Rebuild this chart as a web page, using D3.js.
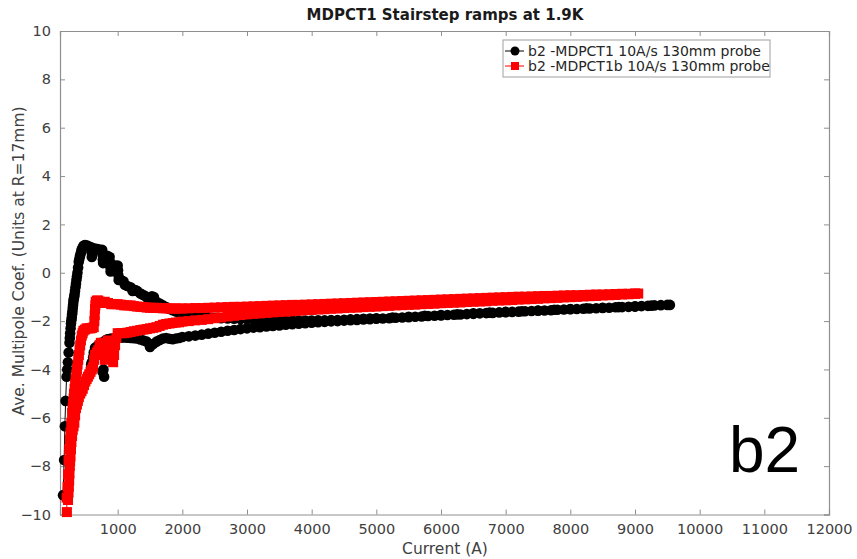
<!DOCTYPE html>
<html>
<head>
<meta charset="utf-8">
<script src="https://cdn.jsdelivr.net/npm/d3@7"></script>
<style>
  body { margin: 0; background: #fff; }
  svg { display: block; }
  text { font-family: "DejaVu Sans", sans-serif; }
</style>
</head>
<body>
<svg id="chart" width="857" height="559"></svg>
<script>
// Tick values for both axes
const xTicks = [1000, 2000, 3000, 4000, 5000, 6000, 7000, 8000, 9000, 10000, 11000, 12000];
const yTicks = [-10, -8, -6, -4, -2, 0, 2, 4, 6, 8, 10];

// b2 -MDPCT1 10A/s 130mm probe : [current (A), b2 (units)], in acquisition order
const seriesMDPCT1 = [
  // up ramp
  [155,-9.2],[172,-7.75],[183,-6.35],[195,-5.3],[210,-4.3],[220,-4.0],[230,-3.7],[242,-3.3],
  [255,-2.9],[260,-2.7],[265,-2.5],[272,-2.3],[278,-2.1],[284,-1.97],[290,-1.85],[295,-1.72],
  [300,-1.6],[305,-1.46],[310,-1.33],[315,-1.2],[320,-1.1],[327,-1.0],[333,-0.9],[340,-0.75],
  [348,-0.6],[355,-0.45],[362,-0.3],[370,-0.15],[378,0.0],[388,0.22],[398,0.45],[408,0.58],
  [418,0.7],[430,0.82],[440,0.94],[455,1.02],[468,1.1],[480,1.13],[495,1.15],
  [530,1.12],[560,1.08],[590,1.05],[595,0.85],[600,0.65],[620,0.85],[650,1.0],[690,0.98],
  [730,0.95],[760,0.95],[765,0.75],[770,0.55],[775,0.4],[800,0.55],[840,0.7],[875,0.65],
  [880,0.45],[885,0.25],[890,0.05],[920,0.2],[960,0.3],[1000,0.3],[1005,0.1],[1010,-0.1],
  [1015,-0.3],[1050,-0.3],[1090,-0.35],[1110,-0.5],[1150,-0.55],[1200,-0.6],[1230,-0.75],
  [1270,-0.72],[1300,-0.75],[1345,-0.85],[1380,-0.9],[1420,-0.95],[1460,-1.05],[1500,-1.1],
  [1530,-0.97],[1560,-1.0],[1600,-1.2],[1650,-1.27],[1700,-1.35],[1750,-1.42],[1800,-1.5],
  [1850,-1.55],[1900,-1.6],[1950,-1.65],[2000,-1.7],[2100,-1.74],[2200,-1.78],[2300,-1.81],
  [2400,-1.84],[2500,-1.86],[2600,-1.88],[2700,-1.89],[2800,-1.9],[2900,-1.91],[3000,-1.92],
  [3100,-1.93],[3200,-1.94],[3300,-1.95],[3400,-1.96],[3500,-1.97],[3600,-1.97],[3700,-1.98],
  [3800,-1.98],[3900,-1.98],[4000,-1.98],[4100,-1.97],[4200,-1.97],[4300,-1.96],[4400,-1.96],
  [4500,-1.95],[4600,-1.93],[4700,-1.92],[4800,-1.9],[4900,-1.89],[5000,-1.88],[5250,-1.85],
  [5500,-1.82],[5750,-1.78],[6000,-1.75],[6250,-1.72],[6500,-1.68],[6750,-1.65],[7000,-1.62],
  [7250,-1.59],[7500,-1.56],[7750,-1.53],[8000,-1.5],[8250,-1.47],[8500,-1.45],[8750,-1.42],
  [9000,-1.39],[9250,-1.36],[9540,-1.33],
  // down ramp
  [9500,-1.33],[9400,-1.34],[9300,-1.35],[9200,-1.37],[9100,-1.38],[9000,-1.40],[8900,-1.41],
  [8800,-1.42],[8700,-1.43],[8600,-1.45],[8500,-1.46],[8400,-1.47],[8300,-1.48],[8200,-1.49],
  [8100,-1.50],[8000,-1.51],[7900,-1.52],[7800,-1.53],[7700,-1.55],[7600,-1.56],[7500,-1.57],
  [7400,-1.58],[7300,-1.59],[7200,-1.61],[7100,-1.62],[7000,-1.63],[6900,-1.64],[6800,-1.66],
  [6700,-1.67],[6600,-1.68],[6500,-1.70],[6400,-1.71],[6300,-1.73],[6200,-1.74],[6100,-1.75],
  [6000,-1.77],[5900,-1.78],[5800,-1.79],[5700,-1.81],[5600,-1.82],[5500,-1.84],[5400,-1.85],
  [5300,-1.86],[5200,-1.88],[5100,-1.89],[5000,-1.90],[4900,-1.92],[4800,-1.93],[4700,-1.95],
  [4600,-1.96],[4500,-1.98],[4400,-2.00],[4300,-2.01],[4200,-2.03],[4100,-2.05],[4000,-2.07],
  [3900,-2.09],[3800,-2.11],[3700,-2.13],[3600,-2.15],[3500,-2.18],[3400,-2.20],[3300,-2.22],
  [3200,-2.25],[3100,-2.27],[3000,-2.30],[2900,-2.33],[2800,-2.37],[2700,-2.40],[2600,-2.44],
  [2500,-2.48],[2400,-2.52],[2300,-2.56],[2200,-2.60],[2100,-2.63],[2000,-2.66],[1950,-2.7],
  [1900,-2.72],[1850,-2.75],[1800,-2.73],[1750,-2.7],[1700,-2.72],[1650,-2.78],[1600,-2.85],
  [1550,-2.95],[1500,-3.07],[1450,-2.85],[1400,-2.8],[1350,-2.76],[1300,-2.72],[1250,-2.71],
  [1200,-2.7],[1150,-2.69],[1100,-2.68],[1050,-2.69],[1000,-2.7],[950,-2.71],[900,-2.72],
  [870,-2.74],[840,-2.75],[810,-2.8],[790,-4.3],[780,-4.0],[765,-4.1],[750,-3.0],[740,-2.9],
  [720,-2.95],[700,-3.0],[680,-3.05],[650,-3.1],[630,-3.3],[620,-3.5],[600,-3.7],[590,-3.8]
];

// b2 -MDPCT1b 10A/s 130mm probe : [current (A), b2 (units)], in acquisition order
const seriesMDPCT1b = [
  // up ramp
  [215,-9.9],[210,-9.3],[225,-8.85],[232,-8.35],[240,-7.75],[250,-7.3],[262,-6.9],[270,-6.6],
  [282,-6.2],[295,-5.8],[302,-5.6],[310,-5.4],[318,-5.2],[325,-5.0],[333,-4.8],[342,-4.6],
  [350,-4.4],[360,-4.2],[370,-4.0],[380,-3.8],[390,-3.6],[400,-3.4],[410,-3.2],[420,-3.0],
  [432,-2.8],[445,-2.6],[458,-2.5],[470,-2.4],[495,-2.35],[520,-2.3],[550,-2.3],[580,-2.3],
  [605,-2.28],[630,-2.25],[640,-2.0],[645,-1.75],[650,-1.5],[655,-1.35],[660,-1.2],
  [680,-1.15],[700,-1.15],[725,-1.2],[750,-1.25],[775,-1.22],[800,-1.2],[850,-1.25],[900,-1.3],
  [950,-1.3],[1000,-1.3],[1050,-1.32],[1100,-1.35],[1150,-1.35],[1200,-1.35],[1250,-1.38],
  [1300,-1.4],[1350,-1.41],[1400,-1.42],[1450,-1.44],[1500,-1.45],[1550,-1.45],[1600,-1.45],
  [1650,-1.46],[1700,-1.47],[1750,-1.47],[1800,-1.48],[1850,-1.48],[1900,-1.48],[1950,-1.48],
  [2000,-1.48],[2100,-1.47],[2200,-1.46],[2300,-1.46],[2400,-1.45],[2500,-1.44],[2600,-1.43],
  [2700,-1.42],[2800,-1.41],[2900,-1.41],[3000,-1.40],[3100,-1.39],[3200,-1.38],[3300,-1.37],
  [3400,-1.36],[3500,-1.35],[3600,-1.34],[3700,-1.33],[3800,-1.33],[3900,-1.32],[4000,-1.31],
  [4100,-1.30],[4200,-1.29],[4300,-1.28],[4400,-1.27],[4500,-1.26],[4600,-1.25],[4700,-1.24],
  [4800,-1.23],[4900,-1.22],[5000,-1.21],[5100,-1.20],[5200,-1.19],[5300,-1.18],[5400,-1.17],
  [5500,-1.16],[5600,-1.15],[5700,-1.14],[5800,-1.13],[5900,-1.12],[6000,-1.11],[6100,-1.10],
  [6200,-1.09],[6300,-1.08],[6400,-1.07],[6500,-1.06],[6600,-1.05],[6700,-1.04],[6800,-1.03],
  [6900,-1.02],[7000,-1.01],[7100,-1.00],[7200,-0.99],[7300,-0.99],[7400,-0.98],[7500,-0.97],
  [7600,-0.96],[7700,-0.96],[7800,-0.95],[7900,-0.94],[8000,-0.93],[8100,-0.93],[8200,-0.92],
  [8300,-0.91],[8400,-0.90],[8500,-0.90],[8600,-0.89],[8700,-0.88],[8800,-0.87],[8900,-0.87],
  [9000,-0.86],[9050,-0.86],
  // down ramp
  [9000,-0.87],[8900,-0.89],[8800,-0.90],[8700,-0.92],[8600,-0.93],[8500,-0.94],[8400,-0.96],
  [8300,-0.97],[8200,-0.98],[8100,-1.00],[8000,-1.01],[7900,-1.02],[7800,-1.04],[7700,-1.05],
  [7600,-1.06],[7500,-1.08],[7400,-1.09],[7300,-1.10],[7200,-1.11],[7100,-1.13],[7000,-1.14],
  [6900,-1.15],[6800,-1.16],[6700,-1.18],[6600,-1.19],[6500,-1.20],[6400,-1.21],[6300,-1.23],
  [6200,-1.24],[6100,-1.25],[6000,-1.26],[5900,-1.28],[5800,-1.29],[5700,-1.30],[5600,-1.32],
  [5500,-1.33],[5400,-1.34],[5300,-1.35],[5200,-1.37],[5100,-1.38],[5000,-1.40],[4900,-1.41],
  [4800,-1.42],[4700,-1.44],[4600,-1.45],[4500,-1.46],[4400,-1.48],[4300,-1.49],[4200,-1.51],
  [4100,-1.52],[4000,-1.54],[3900,-1.55],[3800,-1.57],[3700,-1.59],[3600,-1.61],[3500,-1.62],
  [3400,-1.64],[3300,-1.66],[3200,-1.68],[3100,-1.70],[3000,-1.72],[2900,-1.75],[2800,-1.78],
  [2700,-1.81],[2600,-1.85],[2500,-1.88],[2400,-1.92],[2300,-1.95],[2200,-1.97],[2100,-2.00],
  [2000,-2.02],[1950,-2.05],[1900,-2.06],[1850,-2.08],[1800,-2.10],[1750,-2.12],[1700,-2.15],
  [1650,-2.20],[1600,-2.25],[1550,-2.28],[1500,-2.30],[1450,-2.33],[1400,-2.35],[1350,-2.37],
  [1300,-2.40],[1250,-2.42],[1200,-2.45],[1150,-2.48],[1100,-2.50],[1050,-2.50],[1000,-2.50],
  [980,-2.7],[960,-3.0],[945,-3.4],[930,-3.7],[915,-3.3],[900,-3.0],[875,-2.9],[850,-2.8],
  [825,-3.2],[800,-3.6],[780,-3.2],[760,-2.9],[740,-2.9],[720,-3.0],[700,-3.2],[675,-3.3],
  [650,-3.4],[635,-3.6],[620,-3.9],[600,-4.0],[580,-4.1],[560,-4.2],[540,-4.3],[520,-4.4],
  [500,-4.5],[480,-4.65],[460,-4.8],[440,-4.9],[420,-5.0],[400,-5.15],[385,-5.3],[370,-5.45],
  [355,-5.6],[342,-5.9],[330,-6.2],[318,-6.35],[305,-6.5],[295,-6.75],[285,-7.0],[278,-7.3],
  [270,-7.6],[265,-7.8],[260,-8.0],[255,-8.3],[250,-8.6],[245,-8.85],[240,-9.1],[232,-9.4]
];

const seriesNames = ["b2 -MDPCT1 10A/s 130mm probe", "b2 -MDPCT1b 10A/s 130mm probe"];
const seriesColors = ["#000000", "#ff0000"];

const svg = d3.select("#chart");
const plot = { left: 60, right: 829, top: 31, bottom: 514.5 };

const x = d3.scaleLinear().domain([108, 12000]).range([plot.left, plot.right]);
const y = d3.scaleLinear().domain([-10, 10]).range([plot.bottom, plot.top]);

const axisColor = "#8f8f8f";
const labelColor = "#404040";

// Axes: ticks point inward, box drawn on all four sides
const xAxisB = d3.axisBottom(x).tickValues(xTicks).tickSize(-5).tickPadding(9).tickFormat(d3.format("d"));
const xAxisT = d3.axisTop(x).tickValues(xTicks).tickSize(-5).tickFormat("");
const yAxisL = d3.axisLeft(y).tickValues(yTicks).tickSize(-5).tickPadding(9).tickFormat(d3.format("d"));
const yAxisR = d3.axisRight(y).tickValues(yTicks).tickSize(-5).tickFormat("");

function styleAxis(g) {
  g.select(".domain").attr("stroke", axisColor).attr("stroke-width", 1.2);
  g.selectAll(".tick line").attr("stroke", axisColor).attr("stroke-width", 1);
  g.selectAll(".tick text").attr("fill", labelColor)
    .style("font-family", "'DejaVu Sans', sans-serif").style("font-size", "14.5px");
}

svg.append("g").attr("transform", `translate(0,${plot.bottom})`).call(xAxisB).call(styleAxis);
svg.append("g").attr("transform", `translate(0,${plot.top})`).call(xAxisT).call(styleAxis);
svg.append("g").attr("transform", `translate(${plot.left},0)`).call(yAxisL).call(styleAxis);
svg.append("g").attr("transform", `translate(${plot.right},0)`).call(yAxisR).call(styleAxis);

// Series: thin connecting line plus markers
const line = d3.line().x(d => x(d[0])).y(d => y(d[1]));
const dataG = svg.append("g");

dataG.append("path").datum(seriesMDPCT1)
  .attr("d", line).attr("fill", "none").attr("stroke", seriesColors[0]).attr("stroke-width", 1);
dataG.append("g").selectAll("circle").data(seriesMDPCT1).join("circle")
  .attr("cx", d => x(d[0])).attr("cy", d => y(d[1])).attr("r", 5.3)
  .attr("fill", seriesColors[0]);

dataG.append("path").datum(seriesMDPCT1b)
  .attr("d", line).attr("fill", "none").attr("stroke", seriesColors[1]).attr("stroke-width", 1);
const sq = 10;
dataG.append("g").selectAll("rect").data(seriesMDPCT1b).join("rect")
  .attr("x", d => x(d[0]) - sq / 2).attr("y", d => y(d[1]) - sq / 2)
  .attr("width", sq).attr("height", sq).attr("fill", seriesColors[1]);

// Title and axis labels
svg.append("text").attr("x", 445).attr("y", 20).attr("text-anchor", "middle")
  .style("font-size", "15px").style("font-weight", "bold").attr("fill", "#1a1a1a")
  .text("MDPCT1 Stairstep ramps at 1.9K");
svg.append("text").attr("x", 445).attr("y", 554).attr("text-anchor", "middle")
  .style("font-size", "15.5px").attr("fill", labelColor).text("Current (A)");
svg.append("text").attr("transform", "translate(24,261) rotate(-90)").attr("text-anchor", "middle")
  .style("font-size", "15.5px").attr("fill", labelColor).text("Ave. Multipole Coef. (Units at R=17mm)");

// Legend
const legend = svg.append("g");
legend.append("rect").attr("x", 503).attr("y", 40).attr("width", 267).attr("height", 37)
  .attr("fill", "#fff").attr("stroke", "#a0a0a0").attr("stroke-width", 1);
seriesNames.forEach((name, i) => {
  const ly = 51 + i * 15;
  legend.append("line").attr("x1", 505).attr("x2", 524).attr("y1", ly).attr("y2", ly)
    .attr("stroke", seriesColors[i]).attr("stroke-width", 1);
  if (i === 0) {
    legend.append("circle").attr("cx", 515).attr("cy", ly).attr("r", 4.5).attr("fill", seriesColors[i]);
  } else {
    legend.append("rect").attr("x", 511).attr("y", ly - 4).attr("width", 8).attr("height", 8).attr("fill", seriesColors[i]);
  }
  legend.append("text").attr("x", 528).attr("y", ly + 5).style("font-size", "14px")
    .attr("fill", "#262626").text(name);
});

// Panel tag
svg.append("text").attr("x", 729).attr("y", 472)
  .style("font-family", "'Liberation Sans', Arial, sans-serif").style("font-size", "64px")
  .attr("fill", "#000").text("b2");
</script>
</body>
</html>
